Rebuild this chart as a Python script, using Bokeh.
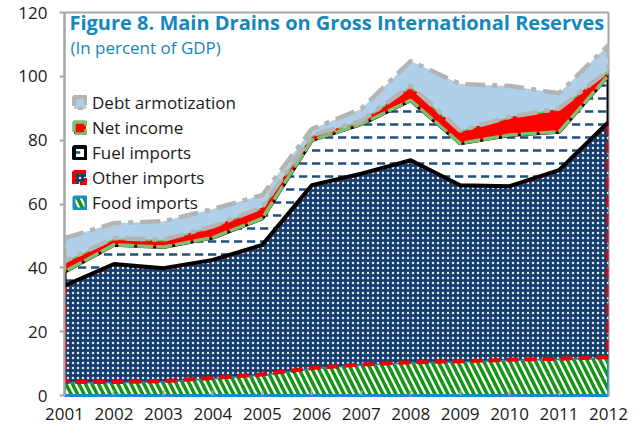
import numpy as np
from bokeh.plotting import figure
from bokeh.models import Label, Legend, LegendItem, FixedTicker, Range1d
from bokeh.embed import file_html
from bokeh.resources import INLINE

years = [2001, 2002, 2003, 2004, 2005, 2006, 2007, 2008, 2009, 2010, 2011, 2012]
food_imports = [4.2, 4.2, 4.5, 5.5, 6.6, 8.6, 9.7, 10.4, 10.7, 11.2, 11.5, 12.0]
other_imports = [30.2, 37.0, 35.4, 37.0, 40.6, 57.3, 59.8, 63.3, 55.2, 54.4, 59.1, 73.7]
fuel_imports = [4.4, 6.0, 6.6, 7.0, 8.3, 14.1, 15.5, 18.8, 13.1, 16.0, 12.0, 14.6]
net_income = [3.2, 2.1, 2.3, 3.5, 3.5, 1.5, 1.0, 4.5, 4.0, 5.7, 7.3, 1.6]
debt_amortization = [7.3, 4.7, 5.8, 5.4, 3.8, 2.0, 3.8, 7.8, 14.6, 9.7, 4.8, 7.9]
y_ticks = [0, 20, 40, 60, 80, 100, 120]

FONT = "Open Sans"

p = figure(width=634, height=426, output_backend="svg", toolbar_location=None,
           x_range=Range1d(2001, 2012), y_range=Range1d(0, 120),
           min_border_left=64, min_border_right=26, min_border_top=12, min_border_bottom=31)
p.background_fill_color = "white"
p.border_fill_color = "white"
p.outline_line_color = "#a6a6a6"
p.outline_line_width = 2
p.xgrid.visible = False
p.ygrid.visible = False

series = [
    ("Food imports", food_imports, dict(fill_color="white", hatch_pattern="\\", hatch_color="#169416",
                                        hatch_weight=3.5, hatch_scale=13, line_color="#1a8cc2", line_width=3)),
    ("Other imports", other_imports, dict(fill_color="#163e6c", hatch_pattern=".", hatch_color="#dfe8f2",
                                          hatch_weight=1.5, hatch_scale=5, line_color="#ee0000", line_width=4,
                                          line_dash="12 6")),
    ("Fuel imports", fuel_imports, dict(fill_color="white", hatch_pattern='"', hatch_color="#1f4e79",
                                        hatch_weight=2.5, hatch_scale=13, line_color="black", line_width=4)),
    ("Net income", net_income, dict(fill_color="#ff0000", line_color="#7fbf6f", line_width=3.5,
                                    line_dash="16 3")),
    ("Debt armotization", debt_amortization, dict(fill_color="#b0cfe8", line_color="#b4b4b4", line_width=4.5,
                                                  line_dash="20 7 5 7")),
]

base = np.zeros(len(years))
items = []
for name, vals, style in series:
    top = base + np.array(vals, dtype=float)
    xs = list(years) + list(years[::-1])
    ys = list(top) + list(base[::-1])
    r = p.patch(xs, ys, **style)
    items.append(LegendItem(label=name, renderers=[r]))
    base = top

legend = Legend(items=items[::-1], location=(8, 181), padding=0, margin=0, spacing=2,
                glyph_width=15, glyph_height=15, label_height=20, label_standoff=5,
                label_text_font=FONT, label_text_font_size="17px", label_text_color="#1a1a1a",
                background_fill_alpha=0, border_line_alpha=0)
p.add_layout(legend)

# axes
p.xaxis.ticker = FixedTicker(ticks=years)
p.yaxis.ticker = FixedTicker(ticks=y_ticks)
for ax in (p.xaxis, p.yaxis):
    ax.axis_line_color = "#a6a6a6"
    ax.axis_line_width = 2
    ax.major_tick_line_color = "#a6a6a6"
    ax.major_tick_line_width = 2
    ax.minor_tick_line_color = None
    ax.major_label_text_font = FONT
    ax.major_label_text_font_size = "17px"
    ax.major_label_text_color = "#1a1a1a"
p.xaxis.axis_line_color = "#1a8cc2"
p.xaxis.axis_line_width = 3
p.xaxis.major_tick_in = 5
p.xaxis.major_tick_out = 0
p.xaxis.major_label_standoff = 12
p.yaxis.major_tick_in = 0
p.yaxis.major_tick_out = 5
p.yaxis.major_label_standoff = 12

p.add_layout(Label(x=2001.1, y=116.9, text="Figure 8. Main Drains on Gross International Reserves",
                   text_font=FONT, text_font_style="bold", text_font_size="20px",
                   text_color="#1587bd", text_baseline="middle"))
p.add_layout(Label(x=2001.12, y=109.1, text="(In percent of GDP)",
                   text_font=FONT, text_font_size="17px",
                   text_color="#1587bd", text_baseline="middle"))

open("out.html", "w").write(file_html(p, INLINE))
